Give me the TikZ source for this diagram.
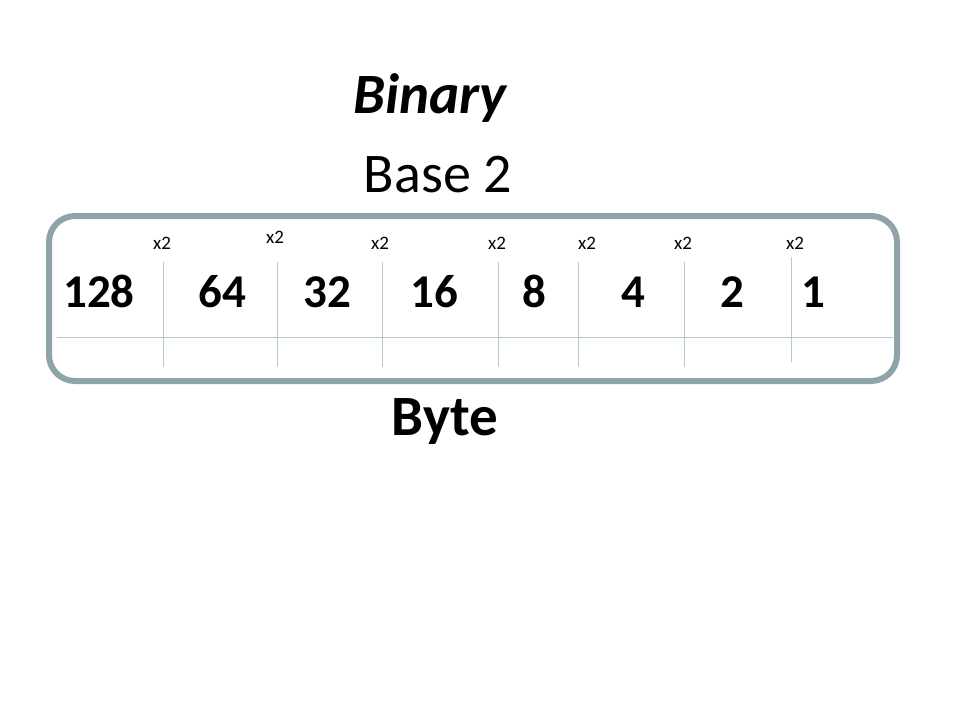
\documentclass[tikz,border=0pt]{standalone}
\usepackage{fontspec}
\setmainfont{Carlito}
\begin{document}
\begin{tikzpicture}[x=1pt,y=-1pt,
  frame/.style={draw=framec,line width=6pt,rounded corners=26pt},
  grid/.style={draw=gridc,line width=1pt},
  num/.style={anchor=base,font=\fontsize{47}{50}\selectfont\bfseries,inner sep=0pt},
  times/.style={anchor=center,font=\fontsize{19}{21}\selectfont,inner sep=0pt},
  title/.style={anchor=base,font=\fontsize{56}{60}\selectfont,inner sep=0pt}]
\definecolor{framec}{HTML}{8FA4A8}
\definecolor{gridc}{HTML}{B0CAD2}
\useasboundingbox[fill=white] (0,0) rectangle (960,720);
\node[title,font=\fontsize{57}{60}\selectfont\bfseries\itshape] (binary) at (430,113) {Binary};
\node[title] (base) at (438,192) {Base 2};
\node[title,font=\fontsize{57}{60}\selectfont\bfseries] (byte) at (445,435) {Byte};
\draw[frame] (49,216) rectangle (897,381);
\coordinate (hl) at (57,337);
\coordinate (hr) at (895,337);
\draw[grid] (hl) -- (hr);
\foreach \x/\n in {163/a,277/b,382/c,498/d,578/e,684/f}{
  \coordinate (t\n) at (\x,262);
  \coordinate (b\n) at (\x,367);
  \draw[grid] (t\n) -- (b\n);
}
\coordinate (tg) at (791,257);
\coordinate (bg) at (791,362);
\draw[grid] (tg) -- (bg);
\foreach \x/\t/\n in {99/128/n1,222/64/n2,327/32/n3,434/16/n4,534/8/n5,633/4/n6,732/2/n7,813/1/n8}{
  \node[num] (\n) at (\x,307) {\t};
}
\foreach \x/\y/\n in {162/243/m1,275/237/m2,380/243/m3,497/243/m4,587/243/m5,683/243/m6,795/243/m7}{
  \node[times] (\n) at (\x,\y) {x2};
}
\end{tikzpicture}
\end{document}
